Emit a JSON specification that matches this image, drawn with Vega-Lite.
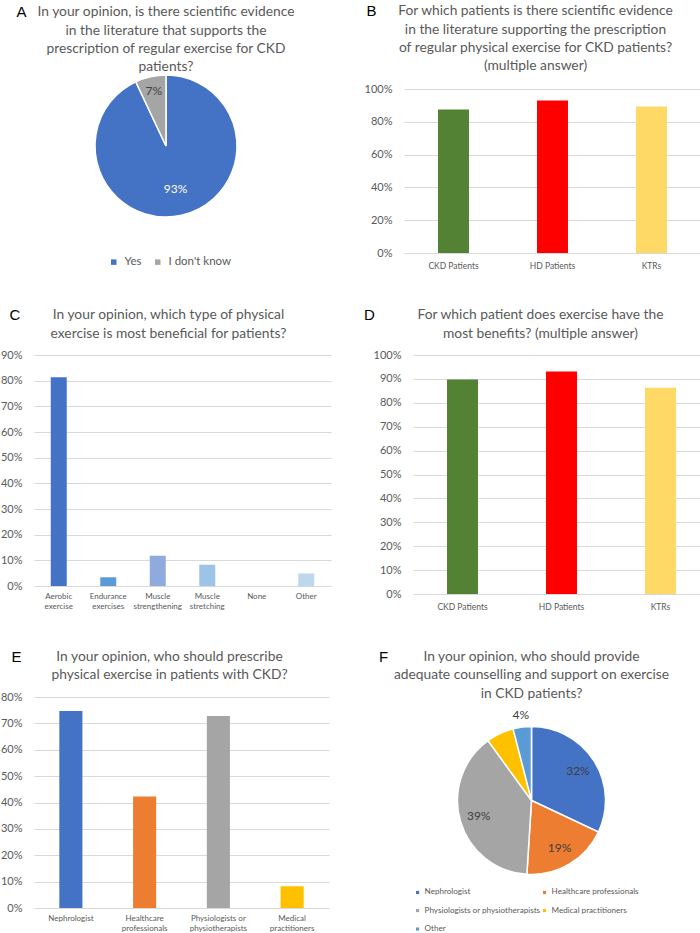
{
  "$schema": "https://vega.github.io/schema/vega-lite/v6.json",
  "padding": {"left": 0, "top": 4, "right": 0, "bottom": 0},
  "background": "white",
  "config": {
    "view": {"stroke": null},
    "font": "Lato",
    "title": {"font": "Lato", "fontSize": 13.8, "fontWeight": "normal", "color": "#595959", "lineHeight": 18.3, "anchor": "middle"},
    "axis": {"labelFont": "Lato", "labelColor": "#595959", "ticks": false, "domain": false, "gridColor": "#d9d9d9", "gridWidth": 1},
    "legend": {"labelFont": "Lato", "labelColor": "#595959"}
  },
  "spacing": 38,
  "resolve": {"scale": {"color": "independent"}},
  "vconcat": [
    {
      "spacing": 66,
      "resolve": {"scale": {"color": "independent"}},
      "hconcat": [
        {
          "title": {"text": "A", "anchor": "start", "font": "Liberation Sans", "fontSize": 15, "color": "#000000", "offset": -15, "dx": -17.5},
          "resolve": {"scale": {"color": "independent"}},
          "vconcat": [
            {
              "width": 264,
              "height": 114,
              "title": {"text": ["In your opinion, is there scientific evidence", "in the literature that supports the", "prescription of regular exercise for CKD", "patients?"], "offset": -2},
              "data": {"values": [
                {"answer": "Yes", "share": 0.93},
                {"answer": "I don't know", "share": 0.07}
              ]},
              "transform": [{"window": [{"op": "row_number", "as": "idx"}]}],
              "encoding": {
                "theta": {"field": "share", "type": "quantitative", "stack": true},
                "order": {"field": "idx", "type": "quantitative"},
                "color": {"field": "answer", "type": "nominal",
                  "scale": {"domain": ["Yes", "I don't know"], "range": ["#4472C4", "#A5A5A5"]},
                  "legend": {"orient": "none", "legendX": 74, "legendY": 167, "direction": "horizontal", "title": null, "symbolType": "square", "symbolSize": 30, "labelFontSize": 11.5, "columnPadding": 10, "labelOffset": 5, "symbolStrokeWidth": 0}}
              },
              "layer": [
                {"mark": {"type": "arc", "radius": 71, "stroke": "white", "strokeWidth": 1.5}},
                {"mark": {"type": "text", "radius": 44, "fontSize": 12, "font": "Lato", "fill": "white"},
                  "encoding": {"text": {"field": "share", "type": "quantitative", "format": ".0%"},
                    "opacity": {"condition": {"test": "datum.answer === 'Yes'", "value": 1}, "value": 0}}},
                {"mark": {"type": "text", "radius": 56, "fontSize": 12, "font": "Lato", "fill": "#404040"},
                  "encoding": {"text": {"field": "share", "type": "quantitative", "format": ".0%"},
                    "opacity": {"condition": {"test": "datum.answer !== 'Yes'", "value": 1}, "value": 0}}}
              ]
            }
          ]
        },
        {
          "title": {"text": "B", "anchor": "start", "font": "Liberation Sans", "fontSize": 15, "color": "#000000", "offset": -15, "dx": 2.5},
          "resolve": {"scale": {"color": "independent"}},
          "vconcat": [
            {
              "width": 297,
              "height": 164,
              "title": {"text": ["For which patients is there scientific evidence", "in the literature supporting the prescription", "of regular physical exercise for CKD patients?", "(multiple answer)"], "offset": 10, "dx": -17},
              "data": {"values": [
                {"patient": "CKD Patients", "pct": 0.875},
                {"patient": "HD Patients", "pct": 0.93},
                {"patient": "KTRs", "pct": 0.894}
              ]},
              "mark": {"type": "bar"},
              "encoding": {
                "x": {"field": "patient", "type": "nominal", "sort": null, "scale": {"paddingInner": 0.687, "paddingOuter": 0.3435},
                  "axis": {"title": null, "labelAngle": 0, "labelFontSize": 8.5, "labelPadding": 8}},
                "y": {"field": "pct", "type": "quantitative", "scale": {"domain": [0, 1]},
                  "axis": {"title": null, "format": ".0%", "values": [0, 0.2, 0.4, 0.6, 0.8, 1], "labelFontSize": 11, "labelPadding": 12}},
                "color": {"field": "patient", "type": "nominal", "scale": {"domain": ["CKD Patients", "HD Patients", "KTRs"], "range": ["#548235", "#FF0000", "#FFD966"]}, "legend": null}
              }
            }
          ]
        }
      ]
    },
    {
      "spacing": 33,
      "resolve": {"scale": {"color": "independent"}},
      "hconcat": [
        {
          "title": {"text": "C", "anchor": "start", "font": "Liberation Sans", "fontSize": 15, "color": "#000000", "offset": -15, "dx": 9},
          "resolve": {"scale": {"color": "independent"}},
          "vconcat": [
            {
              "width": 297,
              "height": 231,
              "title": {"text": ["In your opinion, which type of physical", "exercise is most beneficial for patients?"], "offset": 8.5, "dx": -14},
              "data": {"values": [
                {"type": "Aerobic exercise", "pct": 0.813},
                {"type": "Endurance exercises", "pct": 0.034},
                {"type": "Muscle strengthening", "pct": 0.118},
                {"type": "Muscle stretching", "pct": 0.083},
                {"type": "None", "pct": 0},
                {"type": "Other", "pct": 0.049}
              ]},
              "mark": {"type": "bar"},
              "encoding": {
                "x": {"field": "type", "type": "nominal", "sort": null, "scale": {"paddingInner": 0.677, "paddingOuter": 0.3385},
                  "axis": {"title": null, "labelAngle": 0, "labelFontSize": 8, "labelLineHeight": 10, "labelPadding": 6,
                    "labelExpr": "lastindexof(datum.label, ' ') > 0 ? [slice(datum.label, 0, lastindexof(datum.label, ' ')), slice(datum.label, lastindexof(datum.label, ' ') + 1)] : datum.label"}},
                "y": {"field": "pct", "type": "quantitative", "scale": {"domain": [0, 0.9]},
                  "axis": {"title": null, "format": ".0%", "values": [0, 0.1, 0.2, 0.3, 0.4, 0.5, 0.6, 0.7, 0.8, 0.9], "labelFontSize": 11, "labelPadding": 12}},
                "color": {"field": "type", "type": "nominal", "scale": {"domain": ["Aerobic exercise", "Endurance exercises", "Muscle strengthening", "Muscle stretching", "None", "Other"], "range": ["#4472C4", "#5B9BD5", "#8FAADC", "#9DC3E6", "#BDD7EE", "#BDD7EE"]}, "legend": null}
              }
            }
          ]
        },
        {
          "title": {"text": "D", "anchor": "start", "font": "Liberation Sans", "fontSize": 15, "color": "#000000", "offset": -15, "dx": -9},
          "resolve": {"scale": {"color": "independent"}},
          "vconcat": [
            {
              "width": 297,
              "height": 239,
              "title": {"text": ["For which patient does exercise have the", "most benefits? (multiple answer)"], "offset": 8.5, "dx": -21},
              "data": {"values": [
                {"patient": "CKD Patients", "pct": 0.898},
                {"patient": "HD Patients", "pct": 0.931},
                {"patient": "KTRs", "pct": 0.863}
              ]},
              "mark": {"type": "bar"},
              "encoding": {
                "x": {"field": "patient", "type": "nominal", "sort": null, "scale": {"paddingInner": 0.687, "paddingOuter": 0.3435},
                  "axis": {"title": null, "labelAngle": 0, "labelFontSize": 8.5, "labelPadding": 8}},
                "y": {"field": "pct", "type": "quantitative", "scale": {"domain": [0, 1]},
                  "axis": {"title": null, "format": ".0%", "values": [0, 0.1, 0.2, 0.3, 0.4, 0.5, 0.6, 0.7, 0.8, 0.9, 1], "labelFontSize": 11, "labelPadding": 12}},
                "color": {"field": "patient", "type": "nominal", "scale": {"domain": ["CKD Patients", "HD Patients", "KTRs"], "range": ["#548235", "#FF0000", "#FFD966"]}, "legend": null}
              }
            }
          ]
        }
      ]
    },
    {
      "spacing": 37.5,
      "resolve": {"scale": {"color": "independent"}},
      "hconcat": [
        {
          "title": {"text": "E", "anchor": "start", "font": "Liberation Sans", "fontSize": 15, "color": "#000000", "offset": -15, "dx": 11},
          "resolve": {"scale": {"color": "independent"}},
          "vconcat": [
            {
              "width": 295,
              "height": 211,
              "title": {"text": ["In your opinion, who should prescribe", "physical exercise in patients with CKD?"], "offset": 9, "dx": -12},
              "data": {"values": [
                {"who": "Nephrologist", "pct": 0.747},
                {"who": "Healthcare professionals", "pct": 0.423},
                {"who": "Physiologists or physiotherapists", "pct": 0.728},
                {"who": "Medical practitioners", "pct": 0.082}
              ]},
              "mark": {"type": "bar"},
              "encoding": {
                "x": {"field": "who", "type": "nominal", "sort": null, "scale": {"paddingInner": 0.687, "paddingOuter": 0.3435},
                  "axis": {"title": null, "labelAngle": 0, "labelFontSize": 8, "labelLineHeight": 10, "labelPadding": 6,
                    "labelExpr": "lastindexof(datum.label, ' ') > 0 ? [slice(datum.label, 0, lastindexof(datum.label, ' ')), slice(datum.label, lastindexof(datum.label, ' ') + 1)] : datum.label"}},
                "y": {"field": "pct", "type": "quantitative", "scale": {"domain": [0, 0.8]},
                  "axis": {"title": null, "format": ".0%", "values": [0, 0.1, 0.2, 0.3, 0.4, 0.5, 0.6, 0.7, 0.8], "labelFontSize": 11, "labelPadding": 12}},
                "color": {"field": "who", "type": "nominal", "scale": {"domain": ["Nephrologist", "Healthcare professionals", "Physiologists or physiotherapists", "Medical practitioners"], "range": ["#4472C4", "#ED7D31", "#A5A5A5", "#FFC000"]}, "legend": null}
              }
            }
          ]
        },
        {
          "title": {"text": "F", "anchor": "start", "font": "Liberation Sans", "fontSize": 15, "color": "#000000", "offset": -15, "dx": 12.5},
          "resolve": {"scale": {"color": "independent"}},
          "vconcat": [
            {
              "width": 330,
              "height": 207,
              "title": {"text": ["In your opinion, who should provide", "adequate counselling and support on exercise", "in CKD patients?"], "offset": -3.5},
              "data": {"values": [
                {"who": "Nephrologist", "share": 0.32},
                {"who": "Healthcare professionals", "share": 0.19},
                {"who": "Physiologists or physiotherapists", "share": 0.39},
                {"who": "Medical practitioners", "share": 0.06},
                {"who": "Other", "share": 0.04}
              ]},
              "transform": [{"window": [{"op": "row_number", "as": "idx"}]}],
              "encoding": {
                "theta": {"field": "share", "type": "quantitative", "stack": true},
                "order": {"field": "idx", "type": "quantitative"},
                "color": {"field": "who", "type": "nominal",
                  "scale": {"domain": ["Nephrologist", "Healthcare professionals", "Physiologists or physiotherapists", "Medical practitioners", "Other"], "range": ["#4472C4", "#ED7D31", "#A5A5A5", "#FFC000", "#5B9BD5"]},
                  "legend": {"orient": "none", "legendX": 47, "legendY": 191, "direction": "horizontal", "columns": 2, "title": null, "symbolType": "square", "symbolSize": 10, "labelFontSize": 8.1, "rowPadding": 9.5, "columnPadding": 0, "labelOffset": 3, "symbolStrokeWidth": 0}}
              },
              "layer": [
                {"mark": {"type": "arc", "radius": 74, "stroke": "white", "strokeWidth": 1.5}},
                {"mark": {"type": "text", "radius": 55, "fontSize": 12, "font": "Lato", "fill": "#404040"},
                  "encoding": {"text": {"field": "share", "type": "quantitative", "format": ".0%"},
                    "opacity": {"condition": {"test": "datum.who !== 'Other' && datum.who !== 'Medical practitioners'", "value": 1}, "value": 0}}},
                {"mark": {"type": "text", "radius": 86, "fontSize": 12, "font": "Lato", "fill": "#404040"},
                  "encoding": {"text": {"field": "share", "type": "quantitative", "format": ".0%"},
                    "opacity": {"condition": {"test": "datum.who === 'Other'", "value": 1}, "value": 0}}}
              ]
            }
          ]
        }
      ]
    }
  ]
}
